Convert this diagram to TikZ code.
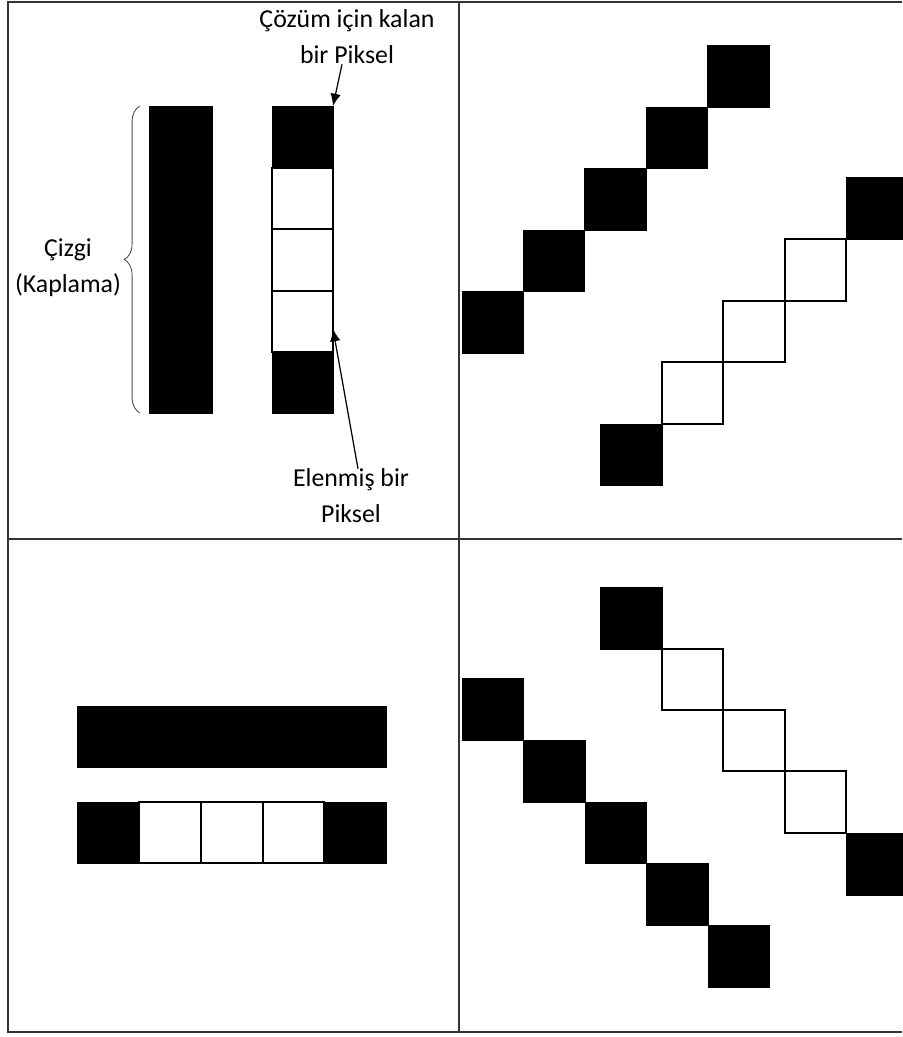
\documentclass[tikz,border=0pt]{standalone}
\usepackage{fontspec}
\setmainfont{Carlito}
\usetikzlibrary{arrows.meta,decorations.pathreplacing}
\tikzset{
  pix/.style={fill=black,draw=black,line width=0.4pt},
  bos/.style={draw=black,line width=0.7pt},
  tablo/.style={draw=black!80,line width=0.9pt},
  yazi/.style={align=center,font=\fontsize{14.7}{20.4}\selectfont,inner sep=0pt},
  ok/.style={-{Latex[length=7pt,width=6pt]},line width=0.7pt},
}
\begin{document}
\begin{tikzpicture}
    [x=0.02cm,y=-0.02cm]
    \useasboundingbox (0,0) rectangle (902,1037);
    %table
    \draw[tablo] (902,2)--(8,2)--(8,1032)--(902,1032);
    \draw[tablo] (459,2)--(459,1032);
    \draw[tablo] (8,539)--(902,539);
    %top left: the line
    \draw[pix] (149,106) rectangle (212,413);
    \draw[black!70,line width=0.5pt,decorate,decoration={brace,amplitude=9pt}] (140,413)--(140,106);
    \node[yazi] (kaplama) at (68,268) {Çizgi\\(Kaplama)};
    %top left: pixels
    \draw[pix] (272,106) rectangle (333,168);
    \draw[bos] (272,168) rectangle (333,229);
    \draw[bos] (272,229) rectangle (333,291);
    \draw[bos] (272,291) rectangle (333,352);
    \draw[pix] (272,352) rectangle (333,413);
    %top left: labels and arrows
    \node[yazi] (kalan) at (347,37) {Çözüm için kalan\\bir Piksel};
    \node[yazi] (elen) at (351,496) {Elenmiş bir\\Piksel};
    \coordinate (kalanuc) at (333,106);
    \coordinate (elenuc) at (333,329);
    \draw[ok] ([xshift=-0.1cm]kalan.south) -- (kalanuc);
    \draw[ok] ([xshift=0.14cm]elen.north) -- (elenuc);
    %top right: upper diagonal
    \draw[pix] (462,291) rectangle (523,353);
    \draw[pix] (523,230) rectangle (584,291);
    \draw[pix] (584,168) rectangle (646,230);
    \draw[pix] (646,107) rectangle (707,168);
    \draw[pix] (707,45) rectangle (769,107);
    %top right: lower diagonal
    \draw[bos] (662,362) rectangle (723,424);
    \draw[bos] (723,301) rectangle (785,362);
    \draw[bos] (785,239) rectangle (846,301);
    \draw[pix] (600,424) rectangle (662,485);
    \draw[pix] (846,177) rectangle (902,239);
    %bottom left
    \draw[pix] (77,706) rectangle (386,767);
    \draw[bos] (139,802) rectangle (201,863);
    \draw[bos] (201,802) rectangle (263,863);
    \draw[bos] (263,802) rectangle (324,863);
    \draw[pix] (77,802) rectangle (139,863);
    \draw[pix] (324,802) rectangle (386,863);
    %bottom right: upper diagonal
    \draw[bos] (662,649) rectangle (723,710);
    \draw[bos] (723,710) rectangle (785,771);
    \draw[bos] (785,771) rectangle (846,833);
    \draw[pix] (600,587) rectangle (662,649);
    \draw[pix] (846,833) rectangle (902,895);
    %bottom right: lower diagonal
    \draw[pix] (462,678) rectangle (523,740);
    \draw[pix] (523,740) rectangle (585,802);
    \draw[pix] (585,802) rectangle (646,863);
    \draw[pix] (646,863) rectangle (708,925);
    \draw[pix] (708,925) rectangle (769,987);
\end{tikzpicture}
\end{document}
